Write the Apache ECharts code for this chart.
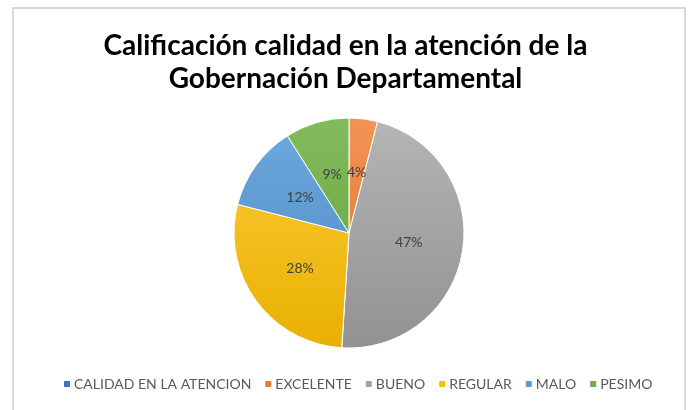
<!DOCTYPE html>
<html>
<head>
<meta charset="utf-8">
<script src="https://cdn.jsdelivr.net/npm/echarts@6/dist/echarts.min.js"></script>
<style>
html, body { margin: 0; padding: 0; background: #fff; }
#chart { width: 691px; height: 410px; }
</style>
</head>
<body>
<div id="chart"></div>
<script>
// datos del grafico
var categorias = ['CALIDAD EN LA ATENCION', 'EXCELENTE', 'BUENO', 'REGULAR', 'MALO', 'PESIMO'];
var porcentajes = [0, 4, 47, 28, 12, 9];
var colores = ['#4472C4', '#ED7D31', '#A5A5A5', '#FFC000', '#5B9BD5', '#70AD47'];
var coloresClaros = ['#5a86d6', '#f29456', '#b5b5b5', '#ffcc3a', '#6ea9de', '#82bb5c'];
var coloresOscuros = ['#3a64b0', '#e06d20', '#929292', '#e8b000', '#4a89c2', '#62a03a'];

var myChart = echarts.init(document.getElementById('chart'));

var datos = [];
for (var i = 0; i < categorias.length; i++) {
    var item = {
        name: categorias[i],
        value: porcentajes[i],
        itemStyle: {
            color: new echarts.graphic.LinearGradient(0, 118, 0, 349, [
                {offset: 0, color: coloresClaros[i]},
                {offset: 1, color: coloresOscuros[i]}
            ], true)
        }
    };
    if (porcentajes[i] === 0) {
        item.label = {show: false};
        item.labelLine = {show: false};
    }
    datos.push(item);
}

var option = {
    animation: false,
    color: colores,
    title: {
        text: 'Calificación calidad en la atención de la\nGobernación Departamental',
        left: 'center',
        top: 24,
        textStyle: {
            fontFamily: 'Lato',
            fontWeight: 'bold',
            fontSize: 28,
            lineHeight: 33,
            color: '#000'
        }
    },
    legend: {
        bottom: 14,
        left: 57,
        itemWidth: 8,
        itemHeight: 8,
        itemGap: 12,
        icon: 'rect',
        data: categorias.map(function (c, i) {
            return {name: c, itemStyle: {color: colores[i]}};
        }),
        textStyle: {
            fontFamily: 'Lato',
            fontSize: 14,
            color: '#595959',
            padding: [0, 0, 0, -2]
        }
    },
    graphic: [{
        type: 'rect',
        shape: {x: 13, y: 8, width: 672, height: 420},
        style: {fill: 'none', stroke: '#d9d9d9', lineWidth: 2}
    }],
    series: [{
        type: 'pie',
        center: [349, 233],
        radius: [0, 115],
        startAngle: 90,
        clockwise: true,
        stillShowZeroSum: false,
        label: {
            show: true,
            position: 'inside',
            formatter: '{d}%',
            fontFamily: 'Lato',
            fontSize: 14,
            color: '#404040'
        },
        labelLine: {show: false},
        itemStyle: {borderColor: '#fff', borderWidth: 1},
        emphasis: {disabled: true},
        data: datos
    }]
};

myChart.setOption(option);
</script>
</body>
</html>
